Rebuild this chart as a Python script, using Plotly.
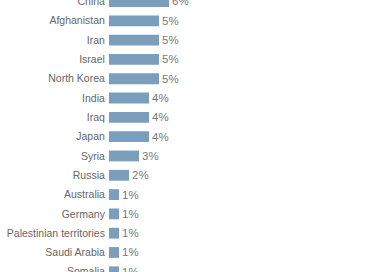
import plotly.graph_objects as go

countries = ["China", "Afghanistan", "Iran", "Israel", "North Korea", "India", "Iraq",
             "Japan", "Syria", "Russia", "Australia", "Germany",
             "Palestinian territories", "Saudi Arabia", "Somalia"]
values = [6, 5, 5, 5, 5, 4, 4, 4, 3, 2, 1, 1, 1, 1, 1]
labels = [f"{v}%" for v in values]

fig = go.Figure(go.Bar(
    x=values, y=countries, orientation="h",
    marker=dict(color="#7A9EBC", line=dict(width=0)),
    width=0.56,
    text=labels, textposition="outside", cliponaxis=False, constraintext="none",
    textfont=dict(family="Liberation Sans, Arial, sans-serif", size=11.5, color="#7a7a7a"),
))
fig.update_layout(
    width=392, height=272,
    margin=dict(l=109, r=0, t=0, b=0),
    paper_bgcolor="white", plot_bgcolor="white",
    showlegend=False,
    font=dict(family="Liberation Sans, Arial, sans-serif", size=10.5, color="#666666"),
)
fig.update_xaxes(range=[0, 28.3], visible=False, showgrid=False, zeroline=False)
fig.update_yaxes(type="category", range=[14.01, -0.077], automargin=False,
                 showgrid=False, zeroline=False, showline=False,
                 ticks="outside", ticklen=1, tickcolor="rgba(0,0,0,0)",
                 tickfont=dict(size=10.5, color="#666666"))
fig.write_html("out.html")
